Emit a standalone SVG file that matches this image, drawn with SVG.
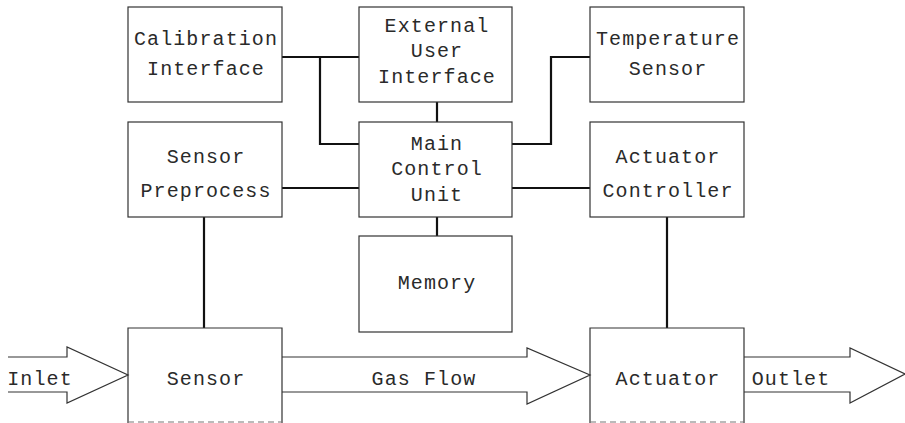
<svg xmlns="http://www.w3.org/2000/svg" width="905" height="423" viewBox="0 0 905 423">
<style>
.box{fill:none;stroke:#333;stroke-width:1.2}
.conn{fill:none;stroke:#111;stroke-width:2.2}
.flow{fill:none;stroke:#333;stroke-width:1.2;stroke-linejoin:miter}
.dash{stroke:#777;stroke-width:1.2;stroke-dasharray:6 4}
text{font-family:"Liberation Mono","DejaVu Sans Mono",monospace;font-size:20px;fill:#2a2a2a;text-anchor:middle;letter-spacing:1.1px}
</style>
<rect width="905" height="423" fill="#fff"/>
<g id="connectors">
<polyline class="conn" points="282,57 359,57"/>
<polyline class="conn" points="320,57 320,144 359,144"/>
<polyline class="conn" points="512,144 551,144 551,57 590,57"/>
<polyline class="conn" points="437,102 437,122"/>
<polyline class="conn" points="282,188 359,188"/>
<polyline class="conn" points="512,188 590,188"/>
<polyline class="conn" points="437,217 437,236"/>
<polyline class="conn" points="204,217 204,328"/>
<polyline class="conn" points="667,217 667,328"/>
</g>
<g id="inlet">
<polyline class="flow" points="8,357 67,357 67,347 128,375 67,403 67,392 8,392"/>
<text x="40" y="385">Inlet</text>
</g>
<g id="gasflow">
<polyline class="flow" points="282,357 527,357 527,348 590,375 527,404 527,392 282,392"/>
<text x="424" y="385">Gas Flow</text>
</g>
<g id="outlet">
<polyline class="flow" points="744,357 850,357 850,348 905,374 850,403 850,392 744,392"/>
<text x="791" y="385">Outlet</text>
</g>
<g id="calibration">
<rect class="box" x="128" y="7" width="154" height="95"/>
<text x="206" y="45">Calibration</text>
<text x="206" y="75">Interface</text>
</g>
<g id="external">
<rect class="box" x="359" y="7" width="153" height="95"/>
<text x="437" y="32">External</text>
<text x="437" y="57">User</text>
<text x="437" y="83">Interface</text>
</g>
<g id="temperature">
<rect class="box" x="590" y="7" width="154" height="95"/>
<text x="668" y="45">Temperature</text>
<text x="668" y="75">Sensor</text>
</g>
<g id="preprocess">
<rect class="box" x="128" y="122" width="154" height="95"/>
<text x="206" y="163">Sensor</text>
<text x="206" y="197">Preprocess</text>
</g>
<g id="main">
<rect class="box" x="359" y="122" width="153" height="95"/>
<text x="437" y="150">Main</text>
<text x="437" y="175">Control</text>
<text x="437" y="201">Unit</text>
</g>
<g id="actctrl">
<rect class="box" x="590" y="122" width="154" height="95"/>
<text x="668" y="163">Actuator</text>
<text x="668" y="197">Controller</text>
</g>
<g id="memory">
<rect class="box" x="359" y="236" width="153" height="96"/>
<text x="437" y="289">Memory</text>
</g>
<g id="sensor">
<path class="box" d="M128,423 V328 H282 V423"/>
<line class="dash" x1="128" y1="422" x2="282" y2="422"/>
<text x="206" y="385">Sensor</text>
</g>
<g id="actuator">
<path class="box" d="M590,423 V328 H744 V423"/>
<line class="dash" x1="590" y1="422" x2="744" y2="422"/>
<text x="668" y="385">Actuator</text>
</g>
</svg>
